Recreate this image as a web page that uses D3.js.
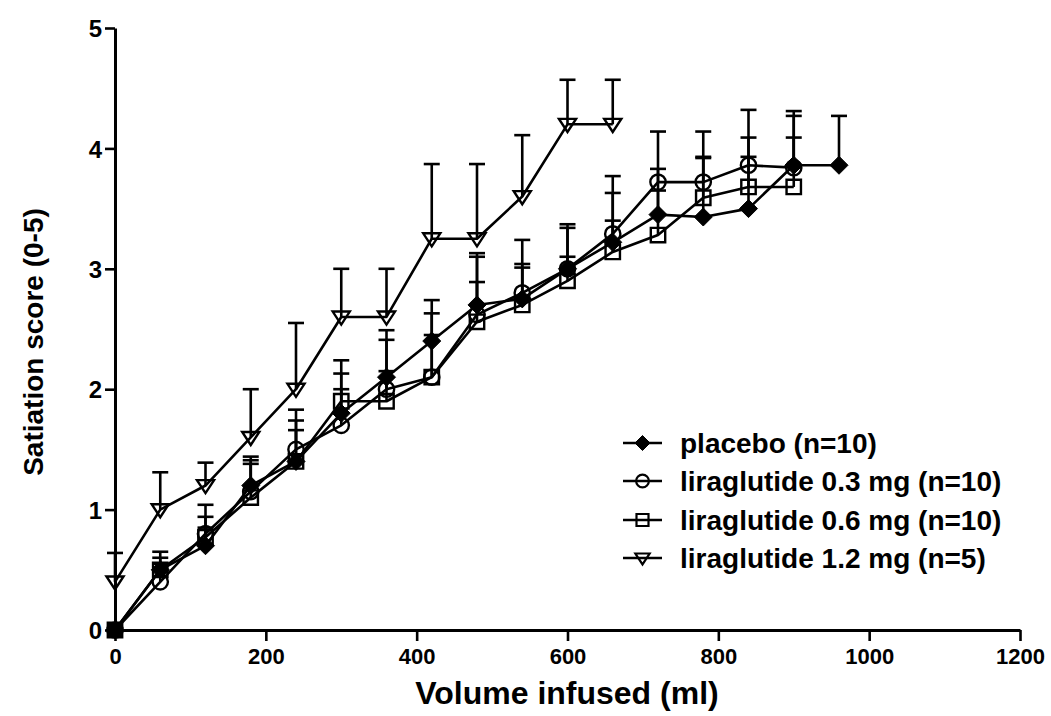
<!DOCTYPE html>
<html>
<head>
<meta charset="utf-8">
<script src="https://cdn.jsdelivr.net/npm/d3@7"></script>
<style>
  html, body { margin: 0; padding: 0; background: #fff; }
  svg { display: block; font-family: "Liberation Sans", Arial, sans-serif; font-weight: bold; }
</style>
</head>
<body>
<svg id="chart" width="1051" height="716"></svg>
<script>
// Volume infused (ml), sampled every 60 ml
const volumes = [0, 60, 120, 180, 240, 300, 360, 420, 480, 540, 600, 660, 720, 780, 840, 900, 960];

// Mean satiation scores per group
const placeboMean = [0, 0.5, 0.7, 1.2, 1.4, 1.8, 2.1, 2.4, 2.7, 2.75, 3.0, 3.22, 3.45, 3.43, 3.5, 3.86, 3.86];
const lira03Mean  = [0, 0.4, 0.8, 1.15, 1.5, 1.7, 2.0, 2.1, 2.62, 2.8, 3.0, 3.29, 3.72, 3.72, 3.86, 3.84];
const lira06Mean  = [0, 0.5, 0.77, 1.1, 1.4, 1.9, 1.9, 2.1, 2.56, 2.7, 2.9, 3.14, 3.28, 3.59, 3.68, 3.68];
const lira12Mean  = [0.4, 1.0, 1.2, 1.6, 2.0, 2.6, 2.6, 3.25, 3.25, 3.6, 4.2, 4.2];

// Upper end of each error bar (mean + SEM)
const placeboUpper = [0, 0.6, 0.85, 1.44, 1.66, 2.13, 2.49, 2.74, 3.13, 3.04, 3.37, 3.63, 3.83, 3.92, 3.93, 4.27, 4.27];
const lira03Upper  = [0, 0.55, 1.04, 1.41, 1.83, 2.0, 2.41, 2.63, 3.10, 3.24, 3.34, 3.77, 4.14, 4.14, 4.32, 4.31];
const lira06Upper  = [0, 0.65, 0.94, 1.38, 1.74, 2.24, 2.15, 2.45, 2.89, 3.01, 3.1, 3.40, 3.65, 3.93, 4.09, 4.09];
const lira12Upper  = [0.64, 1.31, 1.39, 2.0, 2.55, 3.0, 3.0, 3.87, 3.87, 4.11, 4.57, 4.57];

const groupLabels = [
  "placebo (n=10)",
  "liraglutide 0.3 mg (n=10)",
  "liraglutide 0.6 mg (n=10)",
  "liraglutide 1.2 mg (n=5)"
];

const xTicks = [0, 200, 400, 600, 800, 1000, 1200];
const yTicks = [0, 1, 2, 3, 4, 5];

const groups = [
  { label: groupLabels[0], mean: placeboMean, upper: placeboUpper, symbol: "diamond" },
  { label: groupLabels[1], mean: lira03Mean,  upper: lira03Upper,  symbol: "circle" },
  { label: groupLabels[2], mean: lira06Mean,  upper: lira06Upper,  symbol: "square" },
  { label: groupLabels[3], mean: lira12Mean,  upper: lira12Upper,  symbol: "triangle" }
];

const svg = d3.select("#chart");
const x = d3.scaleLinear().domain([0, 1200]).range([115, 1020]);
const y = d3.scaleLinear().domain([0, 5]).range([630, 28]);

const lw = 2.6;

// Marker path builders centred on (0,0)
function symbolPath(kind, s) {
  const p = d3.path();
  if (kind === "diamond") {
    p.moveTo(0, -s); p.lineTo(s, 0); p.lineTo(0, s); p.lineTo(-s, 0); p.closePath();
  } else if (kind === "circle") {
    p.arc(0, 0, s * 0.85, 0, 2 * Math.PI);
  } else if (kind === "square") {
    const h = s * 0.8;
    p.rect(-h, -h, 2 * h, 2 * h);
  } else {
    const w = s * 0.95;
    p.moveTo(-w, -s * 0.6); p.lineTo(w, -s * 0.6); p.lineTo(0, s * 0.85); p.closePath();
  }
  return p.toString();
}

const plot = svg.append("g");

// Draw groups back to front so the placebo diamonds sit on top
[3, 2, 1, 0].forEach(gi => {
  const g = groups[gi];
  const pts = g.mean.map((m, i) => ({ v: volumes[i], m: m, u: g.upper[i] }));
  const layer = plot.append("g");

  layer.append("path")
    .datum(pts)
    .attr("fill", "none")
    .attr("stroke", "#000")
    .attr("stroke-width", lw)
    .attr("stroke-linejoin", "round")
    .attr("d", d3.line().x(d => x(d.v)).y(d => y(d.m)));

  const bars = layer.selectAll(".err")
    .data(pts.filter(d => d.u > d.m))
    .join("g");
  bars.append("line")
    .attr("x1", d => x(d.v)).attr("x2", d => x(d.v))
    .attr("y1", d => y(d.m)).attr("y2", d => y(d.u))
    .attr("stroke", "#000").attr("stroke-width", lw);
  bars.append("line")
    .attr("x1", d => x(d.v) - 8).attr("x2", d => x(d.v) + 8)
    .attr("y1", d => y(d.u)).attr("y2", d => y(d.u))
    .attr("stroke", "#000").attr("stroke-width", lw);

  layer.selectAll(".mk")
    .data(pts)
    .join("path")
    .attr("transform", d => `translate(${x(d.v)},${y(d.m)})`)
    .attr("d", symbolPath(g.symbol, 9))
    .attr("fill", g.symbol === "diamond" ? "#000" : "none")
    .attr("stroke", "#000")
    .attr("stroke-width", g.symbol === "diamond" ? 1 : 2.4);
});

// Axes
const xAxis = svg.append("g")
  .attr("transform", `translate(0,${y(0)})`)
  .call(d3.axisBottom(x).tickValues(xTicks).tickFormat(d3.format("d"))
    .tickSize(11).tickSizeOuter(0).tickPadding(6));
const yAxis = svg.append("g")
  .attr("transform", `translate(${x(0)},0)`)
  .call(d3.axisLeft(y).tickValues(yTicks).tickFormat(d3.format("d"))
    .tickSize(10).tickSizeOuter(0).tickPadding(3));

[xAxis, yAxis].forEach(a => {
  a.select(".domain").attr("stroke", "#000").attr("stroke-width", 3);
  a.selectAll(".tick line").attr("stroke", "#000").attr("stroke-width", 2.6);
  a.selectAll(".tick text")
    .attr("fill", "#000")
    .style("font-family", "'Liberation Sans', Arial, sans-serif")
    .style("font-weight", "bold");
});
xAxis.selectAll(".tick text").attr("dy", "0.75em").style("font-size", "22px");
yAxis.selectAll(".tick text").attr("dy", "0.36em").style("font-size", "24px");

// Axis titles
svg.append("text")
  .attr("x", 567).attr("y", 704)
  .attr("text-anchor", "middle")
  .style("font-size", "32px")
  .text("Volume infused (ml)");

svg.append("text")
  .attr("transform", "translate(43,342) rotate(-90)")
  .attr("text-anchor", "middle")
  .style("font-size", "28px")
  .text("Satiation score (0-5)");

// Legend
const legend = svg.append("g");
const rowY = [443, 481, 520, 558];
groups.forEach((g, i) => {
  const row = legend.append("g").attr("transform", `translate(0,${rowY[i]})`);
  row.append("line")
    .attr("x1", 623).attr("x2", 662).attr("y1", 0).attr("y2", 0)
    .attr("stroke", "#000").attr("stroke-width", lw);
  row.append("path")
    .attr("transform", "translate(642.5,0)")
    .attr("d", symbolPath(g.symbol, 7.5))
    .attr("fill", g.symbol === "diamond" ? "#000" : "none")
    .attr("stroke", "#000")
    .attr("stroke-width", g.symbol === "diamond" ? 1 : 2.2);
  row.append("text")
    .attr("x", 680).attr("y", 0).attr("dy", "0.36em")
    .style("font-size", "28px")
    .text(g.label);
});
</script>
</body>
</html>
